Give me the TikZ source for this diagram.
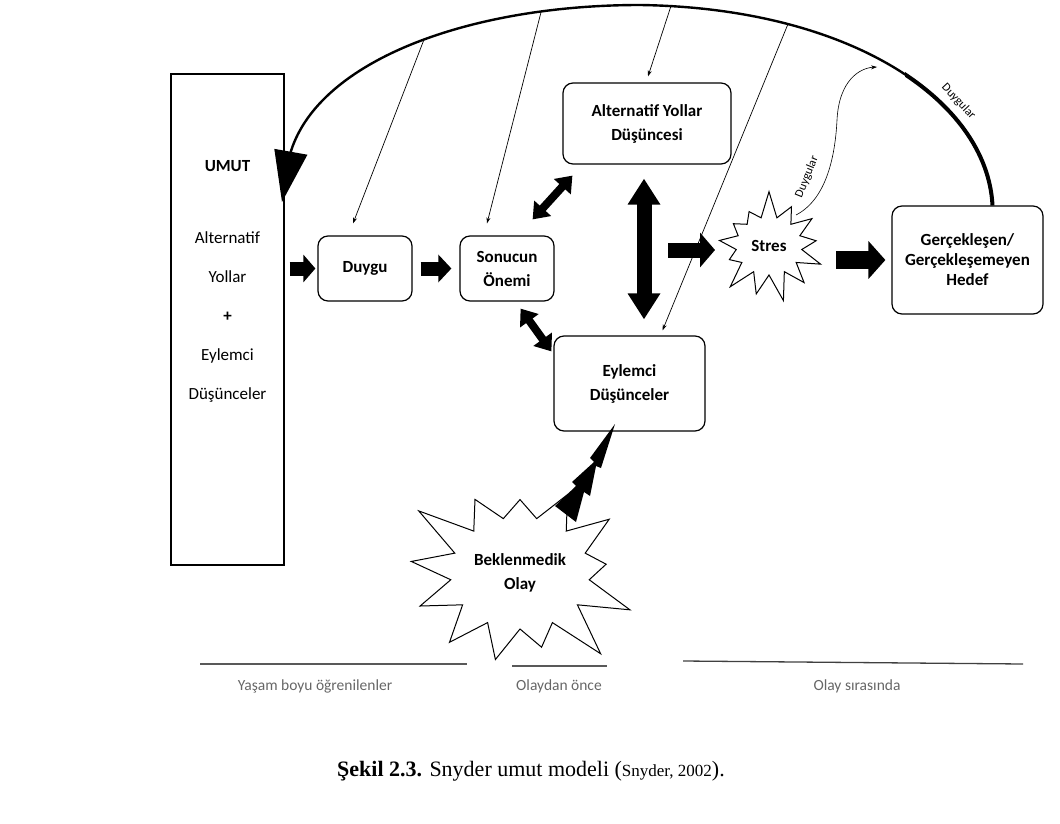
\documentclass[tikz,border=0pt]{standalone}
\usepackage{fontspec}
\setmainfont{Carlito}
\newfontfamily\capfont{Liberation Serif}
\usetikzlibrary{arrows.meta,shapes.symbols,positioning}

\begin{document}
\begin{tikzpicture}[x=1pt,y=-1pt,>=Stealth,
  box/.style={rectangle,draw,rounded corners=10pt,line width=1.2pt,align=center,font=\fontsize{17}{24}\selectfont\bfseries},
  burst/.style={starburst,draw,line width=1pt,align=center,font=\fontsize{17}{24}\selectfont\bfseries},
  thinarr/.style={-{Stealth[length=6pt,width=4pt]},line width=0.7pt},
  block/.style n args={3}{line width=#1pt,-{Triangle[width=#2pt,length=#3pt]}},
  dblock/.style n args={3}{line width=#1pt,{Triangle[width=#2pt,length=#3pt]}-{Triangle[width=#2pt,length=#3pt]}},
  small/.style={font=\fontsize{12}{14}\selectfont},
  era/.style={font=\fontsize{15.5}{18}\selectfont,text=black!60}]
\useasboundingbox (0,0) rectangle (1060,824);

% kutular
\node[draw,line width=1.1pt,minimum width=113pt,minimum height=491pt] (umut) at (227.5,319.5) {};
\node[align=center,font=\fontsize{17}{20}\selectfont] (umuttext) at (227.5,281) {\textbf{UMUT}\\[52pt]Alternatif\\[19pt]Yollar\\[19pt]\textbf{+}\\[19pt]Eylemci\\[19pt]Düşünceler};
\node[box,minimum width=94pt,minimum height=65pt] (duygu) at (365,268.5) {Duygu};
\node[box,minimum width=94pt,minimum height=65pt] (sonucun) at (507,268.5) {Sonucun\\Önemi};
\node[box,minimum width=168pt,minimum height=81pt] (alternatif) at (647,123.5) {Alternatif Yollar\\Düşüncesi};
\node[box,minimum width=151pt,minimum height=95pt] (eylemci) at (629.5,383.5) {Eylemci\\Düşünceler};
\node[box,minimum width=151pt,minimum height=108pt,font=\fontsize{17}{20}\selectfont\bfseries] (hedef) at (967.5,260) {Gerçekleşen/\\Gerçekleşemeyen\\Hedef};
\node[burst,starburst points=13,starburst point height=28pt,random starburst=7,minimum width=122pt,minimum height=114pt,inner sep=0pt] (stres) at (769,246) {Stres};
\node[burst,starburst points=13,starburst point height=55pt,random starburst=3,minimum width=205pt,minimum height=222pt] (olay) at (520,573) {Beklenmedik\\Olay};
\coordinate (umuttip) at (282,202);
\coordinate (instres) at (668,250);

% duygular yayi
\begin{scope}
\clip (905,0) rectangle (1060,300);
\draw[line width=4pt] ([xshift=25pt]hedef.north) .. controls (987,100) and (850,8) .. (640,5);
\end{scope}
\draw[line width=2.4pt,-{Triangle[width=33pt,length=51pt]}] ([xshift=25pt]hedef.north) .. controls (987,100) and (850,8) .. (640,5)
  node[small,pos=.32,rotate=-47,anchor=south,inner sep=7pt] (duygular1) {Duygular}
  coordinate[pos=.74] (k4) coordinate[pos=.95] (k3)
  .. controls (470,5) and (320,60) .. (291,151)
  coordinate[pos=.2] (k2) coordinate[pos=.47] (k1)
  -- (umuttip);

\draw[thinarr] (k1) -- ([xshift=-12pt,yshift=12pt]duygu.north);
\draw[thinarr] (k2) -- ([xshift=-20pt,yshift=12pt]sonucun.north);
\draw[thinarr] (k3) -- ([xshift=1pt,yshift=6pt]alternatif.north);
\draw[thinarr] (k4) -- ([xshift=33pt,yshift=5pt]eylemci.north);

\draw[thinarr,line width=0.6pt] ([shift={(27,-31)}]stres.center) .. controls (825,200) and (835,160) .. (837,120) .. controls (839,80) and (860,68) .. (877,67) coordinate (duygucik);
\node[small,rotate=68] (duygular2) at (807,177) {Duygular};

% kalin oklar
\draw[block={14}{27}{12},shorten <=5pt,shorten >=2pt] (umut.east |- duygu.west) -- (duygu.west);
\draw[block={14}{27}{13},shorten <=8pt,shorten >=8pt] (duygu.east) -- (sonucun.west);
\draw[block={15}{34}{15}] (instres) -- ([shift={(-54,4)}]stres.center);
\draw[block={18}{37}{17}] ([shift={(67,14)}]stres.center) -- ([xshift=-6pt]hedef.west);
\draw[dblock={8}{22}{15}] ([shift={(-22,-16)}]sonucun.north east) -- ([shift={(10,11)}]alternatif.south west);
\draw[dblock={8}{22}{15}] ([shift={(-34,7)}]sonucun.south east) -- ([shift={(-2,16)}]eylemci.north west);
\draw[dblock={15}{31}{26}] ([shift={(-3,14)}]alternatif.south) -- ([shift={(14.5,-16)}]eylemci.north);

% simsek
\fill (615,424) -- (590,458) -- (594,462) -- (572,482) -- (576,486) -- (555,506) -- (576,522) -- (584,492) -- (590,496) -- (596,466) -- (601,468) -- cycle;

% zaman cizgisi
\draw[line width=1.3pt,black!65] (200,664) -- (467,664);
\draw[line width=1.3pt,black!65] (512,666) -- (607,666);
\draw[line width=1.3pt,black!75] (683,661) -- (1023,664);
\node[era] (yasam) at (315,686) {Yaşam boyu öğrenilenler};
\node[era] (once) at (559,686) {Olaydan önce};
\node[era] (sirasinda) at (857,686) {Olay sırasında};

\node (caption) at (531,771) {\capfont\fontsize{22}{26}\selectfont\textbf{Şekil 2.3.} Snyder umut modeli ({\fontsize{17}{20}\selectfont Snyder, 2002}).};
\end{tikzpicture}
\end{document}
